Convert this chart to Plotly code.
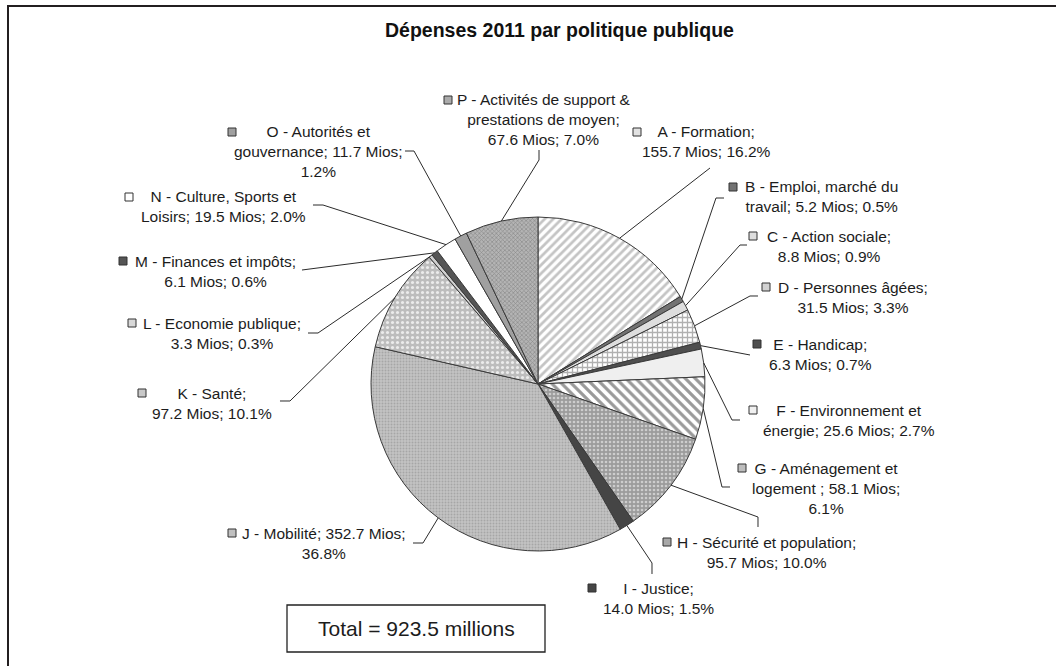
import math
import plotly.graph_objects as go

W, H = 1056, 666

# ---------------- data ----------------
codes = ["A", "B", "C", "D", "E", "F", "G", "H", "I", "J", "K", "L", "M", "N", "O", "P"]
names = [
    "A - Formation",
    "B - Emploi, marché du\ntravail",
    "C - Action sociale",
    "D - Personnes âgées",
    "E - Handicap",
    "F - Environnement et\nénergie",
    "G - Aménagement et\nlogement ",
    "H - Sécurité et population",
    "I - Justice",
    "J - Mobilité",
    "K - Santé",
    "L - Economie publique",
    "M - Finances et impôts",
    "N - Culture, Sports et\nLoisirs",
    "O - Autorités et\ngouvernance",
    "P - Activités de support &\nprestations de moyen",
]
values = [155.7, 5.2, 8.8, 31.5, 6.3, 25.6, 58.1, 95.7, 14.0, 352.7, 97.2, 3.3, 6.1, 19.5, 11.7, 67.6]
title_text = "Dépenses 2011 par politique publique"
total_text = "Total = 923.5 millions"

# ---------------- layout / style ----------------
# line breaks after the name and after the amount (1 = new line)
label_breaks = [(1, 0), (0, 0), (1, 0), (1, 0), (1, 0), (0, 0), (0, 1), (1, 0),
                (1, 0), (0, 1), (1, 0), (1, 0), (1, 0), (0, 0), (0, 1), (1, 0)]
# label text centre x, first-line y (px)
label_pos = [(706, 131), (821, 187), (829, 236), (853, 287), (820, 344), (849, 410),
             (826, 468), (766, 542), (658, 588), (324, 533), (212, 393), (222, 323),
             (215, 261), (223, 197), (318, 131), (544, 100)]
# legend key square centre (px)
key_pos = [(637, 132), (733, 187), (753, 236), (766, 287), (757, 344), (753, 410),
           (742, 468), (667, 542), (592, 588), (232, 533), (142, 393), (132, 323),
           (123, 261), (129, 197), (232, 132), (448, 100)]
# leader line: label-side end point, optional elbow (px)
leader_end = [(710, 168), (724, 198), (747, 245), (758, 296), (750, 355), (740, 420),
              (730, 487), (758, 527), (652, 574), (413, 543), (280, 401), (308, 333),
              (302, 270), (313, 205), (405, 151), (539, 150)]
leader_elbow = [None, (716, 198), (740, 245), (750, 296), None, (732, 420),
                (722, 487), (758, 517), (652, 563), (423, 543), (290, 401), (318, 333),
                None, (323, 205), (414, 151), (539, 160)]

pat_shape = ["/", "", "", "+", "", "", "\\", ".", "", ".", ".", "", "", "", "", "x"]
pat_bg = ["#ffffff", "#737373", "#dedede", "#ffffff", "#4f4f4f", "#efefef", "#ffffff",
          "#9c9c9c", "#454545", "#c4c4c4", "#bdbdbd", "#d0d0d0", "#555555", "#ffffff",
          "#a0a0a0", "#b4b4b4"]
pat_fg = ["#c4c4c4", "#737373", "#dedede", "#b0b0b0", "#4f4f4f", "#efefef", "#9a9a9a",
          "#cdcdcd", "#454545", "#a6a6a6", "#ececec", "#d0d0d0", "#555555", "#ffffff",
          "#a0a0a0", "#8a8a8a"]
pat_size = [6, 8, 8, 5, 8, 8, 7, 4, 8, 3, 5, 8, 8, 8, 8, 3]
pat_solid = [0.45, 0.3, 0.3, 0.45, 0.3, 0.3, 0.45, 0.35, 0.3, 0.35, 0.3, 0.3, 0.3, 0.3, 0.3, 0.4]
key_color = ["#e2e2e2", "#737373", "#dedede", "#d2d2d2", "#4f4f4f", "#f0f0f0", "#bdbdbd",
             "#a8a8a8", "#454545", "#c0c0c0", "#c8c8c8", "#d8d8d8", "#555555", "#ffffff",
             "#a0a0a0", "#ababab"]

FONT = "Liberation Sans, Arial, sans-serif"
CX, CY, R = 538, 384, 167


def px(x):
    return x / W


def py(y):
    return 1 - y / H


fig = go.Figure()
fig.add_trace(go.Pie(
    labels=codes,
    values=values,
    sort=False,
    direction="clockwise",
    rotation=0,
    textinfo="none",
    hoverinfo="label+value+percent",
    showlegend=False,
    domain=dict(x=[px(CX - R), px(CX + R)], y=[py(CY + R), py(CY - R)]),
    marker=dict(
        colors=pat_bg,
        line=dict(color="#3a3a3a", width=1),
        pattern=dict(shape=pat_shape, bgcolor=pat_bg, fgcolor=pat_fg,
                     size=pat_size, solidity=pat_solid, fillmode="replace"),
    ),
))

total = sum(values)
annotations = []
shapes = []
cum = 0.0
for i, v in enumerate(values):
    mid = (cum + v / 2) / total * 2 * math.pi
    cum += v
    ex = CX + R * math.sin(mid)
    ey = CY - R * math.cos(mid)

    pct = v / total * 100
    b1, b2 = label_breaks[i]
    txt = names[i] + ";" + ("\n" if b1 else " ") + f"{v:.1f} Mios;" + ("\n" if b2 else " ") + f"{pct:.1f}%"
    lines = txt.split("\n")
    lx, ly = label_pos[i]
    yc = ly + (len(lines) - 1) * 10
    annotations.append(dict(
        x=px(lx), y=py(yc), xref="paper", yref="paper", xanchor="center", yanchor="middle",
        text="<br>".join(lines), showarrow=False, align="center",
        font=dict(family=FONT, size=15.5, color="#1c1c1c"),
    ))

    kx, ky = key_pos[i]
    shapes.append(dict(type="rect", xref="paper", yref="paper",
                       x0=px(kx - 4), x1=px(kx + 4), y0=py(ky + 4), y1=py(ky - 4),
                       fillcolor=key_color[i], line=dict(color="#333333", width=1)))

    pts = [leader_end[i]]
    if leader_elbow[i] is not None:
        pts.append(leader_elbow[i])
    pts.append((ex, ey))
    path = "M " + " L ".join(f"{px(x):.5f},{py(y):.5f}" for x, y in pts)
    shapes.append(dict(type="path", xref="paper", yref="paper", path=path,
                       line=dict(color="#2b2b2b", width=1)))

# title
annotations.append(dict(x=px(559), y=py(30), xref="paper", yref="paper",
                        xanchor="center", yanchor="middle", showarrow=False,
                        text="<b>" + title_text + "</b>",
                        font=dict(family=FONT, size=19.5, color="#111111")))
# total box
shapes.append(dict(type="rect", xref="paper", yref="paper",
                   x0=px(287), x1=px(545), y0=py(652), y1=py(605),
                   line=dict(color="#222222", width=1.3), fillcolor="rgba(0,0,0,0)"))
annotations.append(dict(x=px(416), y=py(628.5), xref="paper", yref="paper",
                        xanchor="center", yanchor="middle", showarrow=False,
                        text=total_text,
                        font=dict(family=FONT, size=21, color="#1c1c1c")))
# outer frame (top and left edges visible)
shapes.append(dict(type="line", xref="paper", yref="paper",
                   x0=px(7), x1=px(1056), y0=py(6), y1=py(6),
                   line=dict(color="#231f20", width=2)))
shapes.append(dict(type="line", xref="paper", yref="paper",
                   x0=px(8), x1=px(8), y0=py(5), y1=py(666),
                   line=dict(color="#231f20", width=2)))

fig.update_layout(
    width=W, height=H, autosize=False,
    margin=dict(l=0, r=0, t=0, b=0),
    paper_bgcolor="white", plot_bgcolor="white",
    annotations=annotations, shapes=shapes,
)

fig.write_html(
    "out.html", config={"displayModeBar": False},
    post_script=("document.body.style.margin='0';document.body.style.padding='0';"
                 "document.body.style.overflow='hidden';"
                 "document.documentElement.style.overflow='hidden';"),
)
